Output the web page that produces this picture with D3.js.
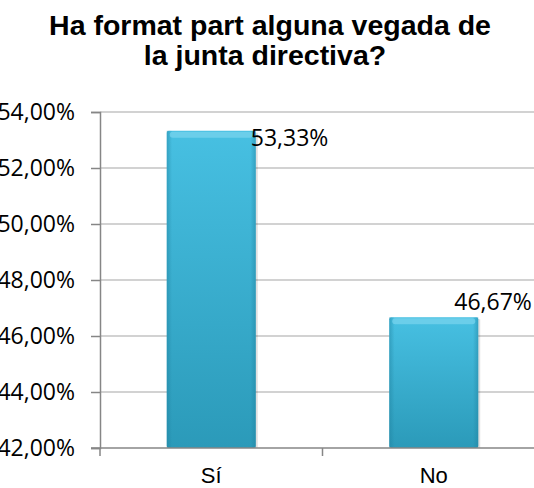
<!DOCTYPE html>
<html>
<head>
<meta charset="utf-8">
<script src="https://cdn.jsdelivr.net/npm/d3@7"></script>
<style>
  body { margin: 0; background: #fff; }
  svg { display: block; }
</style>
</head>
<body>
<script>
var categories = ["Sí", "No"];
var values = [53.33, 46.67];
var valueLabels = ["53,33%", "46,67%"];
var yTicks = [42, 44, 46, 48, 50, 52, 54];
var titleLines = ["Ha format part alguna vegada de", "la junta directiva?"];

var W = 534, H = 488;
var margin = { top: 112, right: -11, bottom: 40, left: 100 };
var width = W - margin.left - margin.right;
var height = H - margin.top - margin.bottom;

var svg = d3.select("body").append("svg")
    .attr("width", W)
    .attr("height", H);

var defs = svg.append("defs");
var grad = defs.append("linearGradient")
    .attr("id", "barGrad")
    .attr("x1", 0).attr("y1", 0).attr("x2", 0).attr("y2", 1);
grad.append("stop").attr("offset", "0%").attr("stop-color", "#47c0e2");
grad.append("stop").attr("offset", "100%").attr("stop-color", "#2b9ab9");

var side = defs.append("linearGradient")
    .attr("id", "sideGrad")
    .attr("x1", 0).attr("y1", 0).attr("x2", 1).attr("y2", 0);
side.append("stop").attr("offset", "0%").attr("stop-color", "#1f7f9c").attr("stop-opacity", 0.45);
side.append("stop").attr("offset", "6%").attr("stop-color", "#1f7f9c").attr("stop-opacity", 0);
side.append("stop").attr("offset", "94%").attr("stop-color", "#1f7f9c").attr("stop-opacity", 0);
side.append("stop").attr("offset", "100%").attr("stop-color", "#1f7f9c").attr("stop-opacity", 0.45);

var g = svg.append("g")
    .attr("transform", "translate(" + margin.left + "," + margin.top + ")");

var x = d3.scaleBand()
    .domain(categories)
    .range([0, width])
    .paddingInner(0.6)
    .paddingOuter(0.3);

var y = d3.scaleLinear()
    .domain([42, 54])
    .range([height, 0]);

// gridlines
g.selectAll("line.grid")
    .data(yTicks.slice(1))
    .enter().append("line")
    .attr("class", "grid")
    .attr("x1", 0)
    .attr("x2", width)
    .attr("y1", function (d) { return y(d); })
    .attr("y2", function (d) { return y(d); })
    .attr("stroke", "#a6a6a6")
    .attr("stroke-width", 1.2);

// y axis
var yAxis = d3.axisLeft(y)
    .tickValues(yTicks)
    .tickSize(9)
    .tickPadding(16)
    .tickFormat(function (d) { return d3.format(".2f")(d).replace(".", ",") + "%"; });

var ya = g.append("g").call(yAxis);
ya.select(".domain").attr("stroke", "#868686").attr("stroke-width", 1.5);
ya.selectAll(".tick line").attr("stroke", "#868686").attr("stroke-width", 1.5);
ya.selectAll(".tick text")
    .attr("font-family", "Open Sans, sans-serif")
    .attr("font-size", 23)
    .attr("fill", "#000");

// bars
var bars = g.selectAll("g.bar")
    .data(values)
    .enter().append("g")
    .attr("class", "bar");

bars.append("rect")
    .attr("x", function (d, i) { return x(categories[i]) + 2; })
    .attr("y", function (d) { return y(d) + 2; })
    .attr("width", x.bandwidth())
    .attr("height", function (d) { return height - y(d) - 2; })
    .attr("fill", "#000")
    .attr("opacity", 0.12);

bars.append("rect")
    .attr("x", function (d, i) { return x(categories[i]); })
    .attr("y", function (d) { return y(d); })
    .attr("width", x.bandwidth())
    .attr("height", function (d) { return height - y(d); })
    .attr("rx", 2)
    .attr("fill", "url(#barGrad)");

bars.append("rect")
    .attr("x", function (d, i) { return x(categories[i]); })
    .attr("y", function (d) { return y(d); })
    .attr("width", x.bandwidth())
    .attr("height", function (d) { return height - y(d); })
    .attr("fill", "url(#sideGrad)");

bars.append("rect")
    .attr("x", function (d, i) { return x(categories[i]) + 3; })
    .attr("y", function (d) { return y(d) + 1; })
    .attr("width", x.bandwidth() - 6)
    .attr("height", 6)
    .attr("rx", 3)
    .attr("fill", "#7ad4ee")
    .attr("opacity", 0.7);

// x axis
var xa = g.append("g")
    .attr("transform", "translate(0," + height + ")");
xa.append("line")
    .attr("x1", -9).attr("x2", width)
    .attr("stroke", "#868686").attr("stroke-width", 1.5);
xa.selectAll("line.tick")
    .data([0, x.step() ])
    .enter().append("line")
    .attr("class", "tick")
    .attr("x1", function (d) { return d; })
    .attr("x2", function (d) { return d; })
    .attr("y1", 0).attr("y2", 8)
    .attr("stroke", "#868686").attr("stroke-width", 1.5);
xa.selectAll("text")
    .data(categories)
    .enter().append("text")
    .attr("x", function (d) { return x(d) + x.bandwidth() / 2; })
    .attr("y", 35)
    .attr("text-anchor", "middle")
    .attr("font-family", "Liberation Sans, Arial, sans-serif")
    .attr("font-size", 22)
    .text(function (d) { return d; });

// value labels (placed by hand as in the original)
var labelDx = [-5, -24];
var labelDy = [15, -7];
g.selectAll("text.value")
    .data(values)
    .enter().append("text")
    .attr("class", "value")
    .attr("x", function (d, i) { return x(categories[i]) + x.bandwidth() + labelDx[i]; })
    .attr("y", function (d, i) { return y(d) + labelDy[i]; })
    .attr("font-family", "Open Sans, sans-serif")
    .attr("font-size", 23)
    .text(function (d, i) { return valueLabels[i]; });

// title
svg.selectAll("text.title")
    .data(titleLines)
    .enter().append("text")
    .attr("class", "title")
    .attr("x", function (d, i) { return i == 0 ? 270 : 265; })
    .attr("y", function (d, i) { return 35 + i * 30; })
    .attr("text-anchor", "middle")
    .attr("font-family", "Liberation Sans, Arial, sans-serif")
    .attr("font-weight", "bold")
    .attr("font-size", 28.5)
    .text(function (d) { return d; });
</script>
</body>
</html>
